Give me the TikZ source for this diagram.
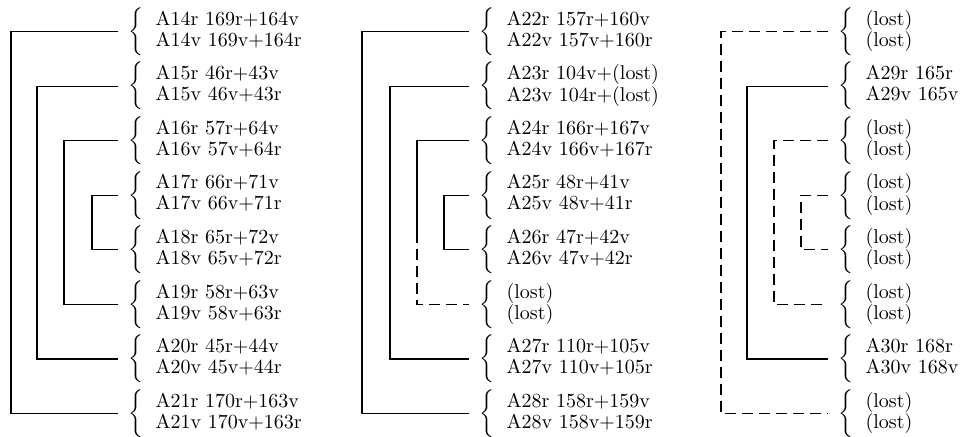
\documentclass[tikz,border=0pt]{standalone}
\usetikzlibrary{positioning}
\renewcommand{\arraystretch}{0.875}
\newcommand{\pair}[2]{$\bigg\{\hspace{6pt}\begin{tabular}{@{}l@{}}#1\\#2\end{tabular}$}
\begin{document}
\begin{tikzpicture}[x=0.5pt,y=-0.5pt,line width=0.6pt,
    grp/.style={anchor=west,inner xsep=5pt,inner ysep=0pt},
    lost/.style={dash pattern=on 5.5pt off 3pt}]
    \useasboundingbox (0,0) rectangle (960,436);

    % left column
    \node[grp] (l1) at (118,31.5) {\pair{A14r 169r+164v}{A14v 169v+164r}};
    \node[grp] (l2) at (118,86.1) {\pair{A15r 46r+43v}{A15v 46v+43r}};
    \node[grp] (l3) at (118,140.6) {\pair{A16r 57r+64v}{A16v 57v+64r}};
    \node[grp] (l4) at (118,195.2) {\pair{A17r 66r+71v}{A17v 66v+71r}};
    \node[grp] (l5) at (118,249.8) {\pair{A18r 65r+72v}{A18v 65v+72r}};
    \node[grp] (l6) at (118,304.4) {\pair{A19r 58r+63v}{A19v 58v+63r}};
    \node[grp] (l7) at (118,358.9) {\pair{A20r 45r+44v}{A20v 45v+44r}};
    \node[grp] (l8) at (118,413.5) {\pair{A21r 170r+163v}{A21v 170v+163r}};

    \draw (l1.west) -- ++(-107,0) |- (l8.west);
    \draw (l2.west) -- ++(-81,0) |- (l7.west);
    \draw (l3.west) -- ++(-54,0) |- (l6.west);
    \draw (l4.west) -- ++(-26,0) |- (l5.west);

    % middle column
    \node[grp] (m1) at (469,31.5) {\pair{A22r 157r+160v}{A22v 157v+160r}};
    \node[grp] (m2) at (469,86.1) {\pair{A23r 104v+(lost)}{A23v 104r+(lost)}};
    \node[grp] (m3) at (469,140.6) {\pair{A24r 166r+167v}{A24v 166v+167r}};
    \node[grp] (m4) at (469,195.2) {\pair{A25r 48r+41v}{A25v 48v+41r}};
    \node[grp] (m5) at (469,249.8) {\pair{A26r 47r+42v}{A26v 47v+42r}};
    \node[grp] (m6) at (469,304.4) {\pair{(lost)}{(lost)}};
    \node[grp] (m7) at (469,358.9) {\pair{A27r 110r+105v}{A27v 110v+105r}};
    \node[grp] (m8) at (469,413.5) {\pair{A28r 158r+159v}{A28v 158v+159r}};

    \draw (m1.west) -- ++(-107,0) |- (m8.west);
    \draw (m2.west) -- ++(-79,0) |- (m7.west);
    \draw (m3.west) -- ++(-52,0) -- ++(0,91) coordinate (m36);
    \draw[lost] (m36) |- (m6.west);
    \draw (m4.west) -- ++(-25,0) |- (m5.west);

    % right column
    \node[grp] (r1) at (828,31.5) {\pair{(lost)}{(lost)}};
    \node[grp] (r2) at (828,86.1) {\pair{A29r 165r}{A29v 165v}};
    \node[grp] (r3) at (828,140.6) {\pair{(lost)}{(lost)}};
    \node[grp] (r4) at (828,195.2) {\pair{(lost)}{(lost)}};
    \node[grp] (r5) at (828,249.8) {\pair{(lost)}{(lost)}};
    \node[grp] (r6) at (828,304.4) {\pair{(lost)}{(lost)}};
    \node[grp] (r7) at (828,358.9) {\pair{A30r 168r}{A30v 168v}};
    \node[grp] (r8) at (828,413.5) {\pair{(lost)}{(lost)}};

    \draw[lost] (r1.west) -- ++(-107,0) |- (r8.west);
    \draw (r2.west) -- ++(-81,0) |- (r7.west);
    \draw[lost] (r3.west) -- ++(-54,0) |- (r6.west);
    \draw[lost] (r4.west) -- ++(-27,0) |- (r5.west);
\end{tikzpicture}
\end{document}
